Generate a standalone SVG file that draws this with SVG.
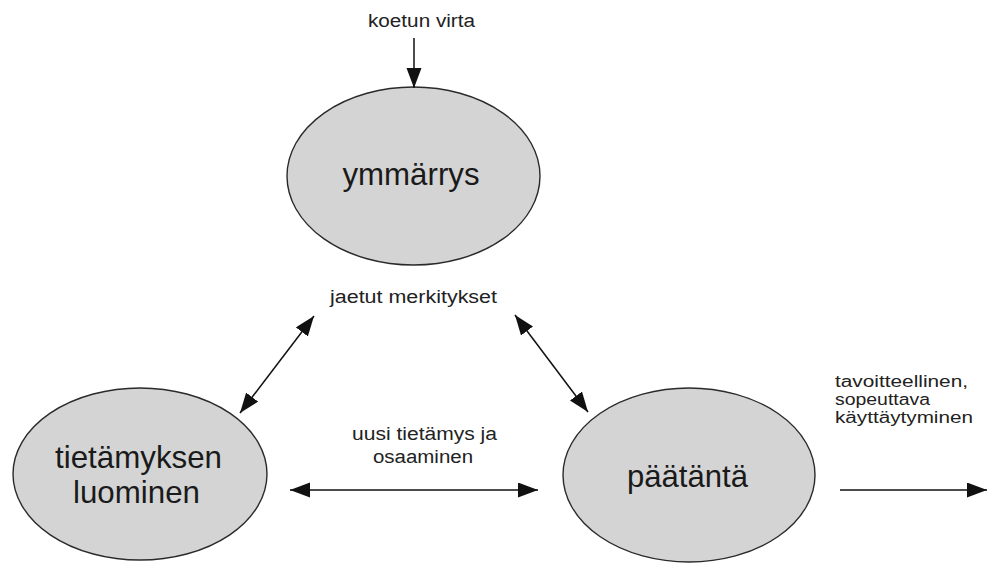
<svg xmlns="http://www.w3.org/2000/svg" width="989" height="563" viewBox="0 0 989 563">
  <style>
    .node ellipse { fill: #d4d4d4; stroke: #2a2a2a; stroke-width: 1.4; }
    .big { font-family: "Liberation Sans", Arial, sans-serif; font-size: 32px; fill: #1a1a1a; text-anchor: middle; }
    .small { font-family: "Liberation Sans", Arial, sans-serif; font-size: 18px; fill: #222; }
    .side { font-size: 16px; }
    .mid { text-anchor: middle; }
    .conn line { stroke: #111; stroke-width: 1.5; }
  </style>
  <defs>
    <marker id="arrow" markerUnits="userSpaceOnUse" markerWidth="21" markerHeight="16" refX="20" refY="7.5" orient="auto-start-reverse">
      <path d="M0,0 L20,7.5 L0,15 z" fill="#111"/>
    </marker>
  </defs>
  <rect width="989" height="563" fill="#fff"/>

  <!-- nodes -->
  <g id="ymmarrys" class="node">
    <ellipse cx="413.5" cy="176" rx="126.5" ry="89"/>
    <text class="big" x="411" y="185" textLength="137" lengthAdjust="spacingAndGlyphs">ymmärrys</text>
  </g>
  <g id="tietamyksen-luominen" class="node">
    <ellipse cx="140" cy="474" rx="127" ry="86"/>
    <text class="big" x="138.5" y="468" textLength="167" lengthAdjust="spacingAndGlyphs">tietämyksen</text>
    <text class="big" x="136.5" y="503" textLength="127" lengthAdjust="spacingAndGlyphs">luominen</text>
  </g>
  <g id="paatanta" class="node">
    <ellipse cx="689" cy="475" rx="126" ry="87"/>
    <text class="big" x="687.5" y="487" textLength="121" lengthAdjust="spacingAndGlyphs">päätäntä</text>
  </g>

  <!-- connectors -->
  <g id="connectors" class="conn">
    <line x1="414" y1="38" x2="414" y2="88" marker-end="url(#arrow)"/>
    <line x1="240" y1="413" x2="314" y2="316" marker-start="url(#arrow)" marker-end="url(#arrow)"/>
    <line x1="515" y1="315" x2="588" y2="412" marker-start="url(#arrow)" marker-end="url(#arrow)"/>
    <line x1="290" y1="490" x2="538" y2="490" marker-start="url(#arrow)" marker-end="url(#arrow)"/>
    <line x1="840" y1="490" x2="987" y2="490" marker-end="url(#arrow)"/>
  </g>

  <!-- connector labels -->
  <g id="labels">
    <text class="small mid" x="421.5" y="27" textLength="107" lengthAdjust="spacingAndGlyphs">koetun virta</text>
    <text class="small mid" x="413.5" y="303" textLength="167" lengthAdjust="spacingAndGlyphs">jaetut merkitykset</text>
    <text class="small mid" x="424.5" y="440" textLength="145" lengthAdjust="spacingAndGlyphs">uusi tietämys ja</text>
    <text class="small mid" x="423" y="463" textLength="100" lengthAdjust="spacingAndGlyphs">osaaminen</text>
    <text class="small side" x="835" y="387" textLength="133" lengthAdjust="spacingAndGlyphs">tavoitteellinen,</text>
    <text class="small side" x="835" y="405" textLength="95" lengthAdjust="spacingAndGlyphs">sopeuttava</text>
    <text class="small side" x="835" y="423" textLength="138" lengthAdjust="spacingAndGlyphs">käyttäytyminen</text>
  </g>
</svg>
